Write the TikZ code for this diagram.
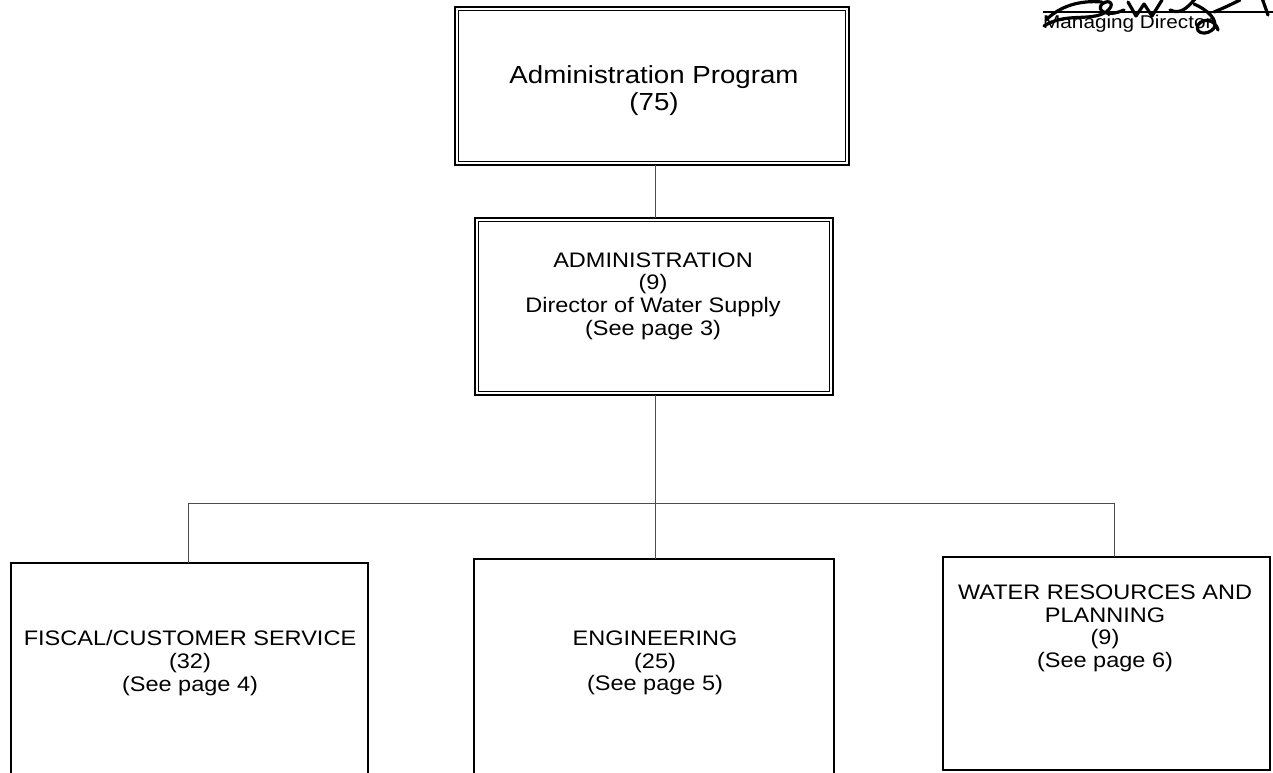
\documentclass[tikz,border=0pt]{standalone}
\usepackage{fontspec}
\setmainfont[FakeStretch=1.12]{Liberation Sans}
\begin{document}
\begin{tikzpicture}[x=1pt,y=-1pt,
  frame/.style={draw, line width=2.2pt, inner sep=0pt, outer sep=0pt},
  inframe/.style={line width=0.9pt},
  unit/.style={draw, line width=1.6pt, inner sep=0pt, outer sep=0pt},
  conn/.style={line width=0.8pt, black!70},
  titletxt/.style={align=center, inner sep=0pt, font=\fontsize{24.7}{27}\selectfont},
  bodytxt/.style={align=center, inner sep=0pt, font=\fontsize{21}{22.6}\selectfont},
  sig/.style={line width=3.2pt, line cap=round, line join=round}]
\clip (0,0) rectangle (1273,772);
\fill[white] (0,0) rectangle (1273,772);

% program box (double frame)
\node[frame, minimum width=394pt, minimum height=158pt] (prog) at (652,86) {};
\draw[inframe] ([xshift=3.5pt,yshift=-3.5pt]prog.north west) rectangle ([xshift=-3.5pt,yshift=3.5pt]prog.south east);
\node[titletxt] (progtxt) at (654,90.5) {Administration Program\\(75)};

% administration box (double frame)
\node[frame, minimum width=358pt, minimum height=177pt] (adm) at (654,306.5) {};
\draw[inframe] ([xshift=3.5pt,yshift=-3.5pt]adm.north west) rectangle ([xshift=-3.5pt,yshift=3.5pt]adm.south east);
\node[bodytxt] (admtxt) at (653,296) {ADMINISTRATION\\(9)\\Director of Water Supply\\(See page 3)};

% divisions
\node[unit, minimum width=357pt, minimum height=237pt] (fis) at (189.5,681.5) {};
\node[bodytxt] (fistxt) at (190,663) {FISCAL/CUSTOMER SERVICE\\(32)\\(See page 4)};

\node[unit, minimum width=360pt, minimum height=241pt] (eng) at (654,679.5) {};
\node[bodytxt] (engtxt) at (655,663) {ENGINEERING\\(25)\\(See page 5)};

\node[unit, minimum width=327pt, minimum height=213pt] (wrp) at (1106.5,663.5) {};
\node[bodytxt] (wrptxt) at (1105,628.5) {WATER RESOURCES AND\\PLANNING\\(9)\\(See page 6)};

% connectors
\coordinate (busL) at (188,503);
\coordinate (busM) at (655,503);
\coordinate (busR) at (1114,503);
\draw[conn] (adm.north -| busM) -- (prog.south -| busM);
\draw[conn] (adm.south -| busM) -- (eng.north -| busM);
\draw[conn] (busL) -- (busR);
\draw[conn] (busL) -- (busL |- fis.north);
\draw[conn] (busR) -- (busR |- wrp.north);

% signature block
\coordinate (sigL) at (1043,12);
\coordinate (sigR) at (1273,12);
\draw[line width=1.3pt] (sigL) -- (sigR);
\node[anchor=base west, inner sep=0pt, font=\fontsize{18.5}{20}\selectfont] (md) at (1043,28) {Managing Director};
\draw[sig] (1046,20) .. controls (1060,6) and (1080,0) .. (1102,2);
\draw[sig] (1044,26) .. controls (1066,12) and (1090,22) .. (1106,12) .. controls (1116,5) and (1110,-2) .. (1102,4) .. controls (1096,10) and (1106,18) .. (1124,10);
\draw[sig] (1128,2) -- (1136,16) -- (1144,4) -- (1152,16) -- (1162,0);
\draw[sig] (1170,10) .. controls (1182,16) and (1190,4) .. (1196,-2);
\draw[sig] (1194,4) .. controls (1208,10) and (1218,20) .. (1214,28) .. controls (1208,36) and (1194,34) .. (1198,25) .. controls (1203,17) and (1216,20) .. (1218,30);
\draw[sig] (1214,12) .. controls (1226,7) and (1234,3) .. (1240,0);
\draw[sig] (1262,-2) -- (1268,15);
\end{tikzpicture}
\end{document}
